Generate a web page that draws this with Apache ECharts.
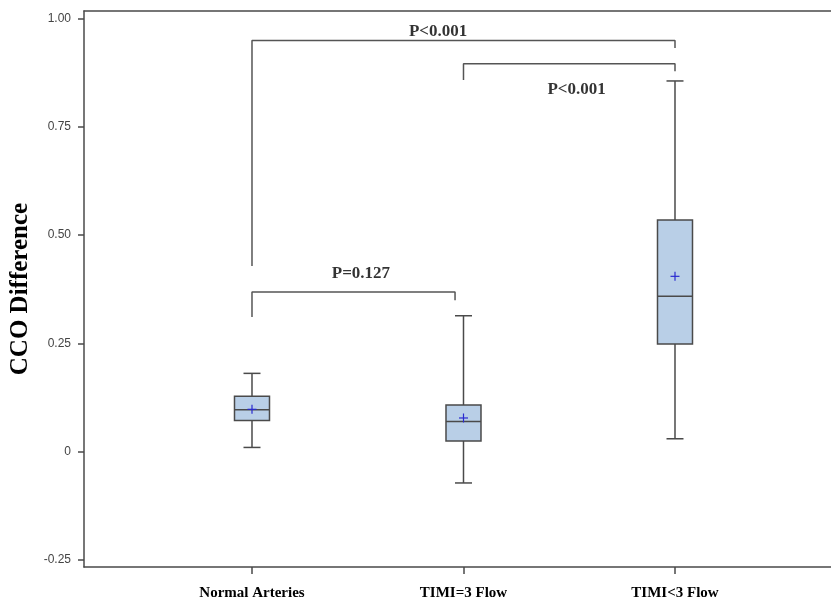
<!DOCTYPE html>
<html>
<head>
<meta charset="utf-8">
<script src="https://cdn.jsdelivr.net/npm/echarts@6/dist/echarts.min.js"></script>
<style>html,body{margin:0;padding:0;background:#fff}#c{width:831px;height:601px}</style>
</head>
<body>
<div id="c"></div>
<script>
// Categories and box statistics
const categories = ['Normal Arteries', 'TIMI=3 Flow', 'TIMI<3 Flow'];
const whiskerLow  = [0.010, -0.072, 0.030];
const q1Values    = [0.072, 0.025, 0.249];
const medians     = [0.097, 0.070, 0.359];
const q3Values    = [0.128, 0.108, 0.535];
const whiskerHigh = [0.181, 0.314, 0.856];
const means       = [0.098, 0.078, 0.405];
const yTicks = [-0.25, 0, 0.25, 0.5, 0.75, 1.0];

// Significance annotations
const pLabels = ['P<0.001', 'P<0.001', 'P=0.127'];
const bracketA = [[1, 0.4286], [1, 0.9495], [3, 0.9495], [3, 0.932]];
const bracketB = [[2, 0.858], [2, 0.896], [3, 0.896], [3, 0.8786]];
const bracketC = [[1, 0.311], [1, 0.369], [1.96, 0.369], [1.96, 0.350]];
const labelPos = [[1.88, 0.971], [2.535, 0.837], [1.515, 0.412]];

const boxData = categories.map((c, i) => [i + 1, whiskerLow[i], q1Values[i], medians[i], q3Values[i], whiskerHigh[i], means[i]]);

const lineColor = '#4a4a4a';
function renderBox(params, api) {
  const x = api.value(0);
  const pLow = api.coord([x, api.value(1)]);
  const pQ1 = api.coord([x, api.value(2)]);
  const pMed = api.coord([x, api.value(3)]);
  const pQ3 = api.coord([x, api.value(4)]);
  const pHigh = api.coord([x, api.value(5)]);
  const pMean = api.coord([x, api.value(6)]);
  const cx = pMed[0];
  const bw = 35, cw = 17, ps = 4.5;
  const ls = {stroke: lineColor, lineWidth: 1.5};
  return {
    type: 'group',
    children: [
      {type: 'line', shape: {x1: cx, y1: pHigh[1], x2: cx, y2: pQ3[1]}, style: ls},
      {type: 'line', shape: {x1: cx, y1: pQ1[1], x2: cx, y2: pLow[1]}, style: ls},
      {type: 'line', shape: {x1: cx - cw / 2, y1: pHigh[1], x2: cx + cw / 2, y2: pHigh[1]}, style: ls},
      {type: 'line', shape: {x1: cx - cw / 2, y1: pLow[1], x2: cx + cw / 2, y2: pLow[1]}, style: ls},
      {type: 'rect', shape: {x: cx - bw / 2, y: pQ3[1], width: bw, height: pQ1[1] - pQ3[1]}, style: {fill: '#b9cfe7', stroke: lineColor, lineWidth: 1.5}},
      {type: 'line', shape: {x1: cx - bw / 2, y1: pMed[1], x2: cx + bw / 2, y2: pMed[1]}, style: ls},
      {type: 'line', shape: {x1: cx - ps, y1: pMean[1], x2: cx + ps, y2: pMean[1]}, style: {stroke: '#2a2ad0', lineWidth: 1.2}},
      {type: 'line', shape: {x1: cx, y1: pMean[1] - ps, x2: cx, y2: pMean[1] + ps}, style: {stroke: '#2a2ad0', lineWidth: 1.2}}
    ]
  };
}

const bracketStyle = {color: '#555', width: 1.5};
const chart = echarts.init(document.getElementById('c'), null, {renderer: 'canvas'});
chart.setOption({
  animation: false,
  grid: {left: 84, right: 0, top: 11, bottom: 34, containLabel: false, outerBoundsMode: 'none'},
  xAxis: [{
    type: 'value', min: 0.2057, max: 3.7376, position: 'bottom',
    splitLine: {show: false},
    axisLine: {show: true, onZero: false, lineStyle: {color: lineColor, width: 1.5}},
    axisTick: {show: true, customValues: [1, 2, 3], length: 7, lineStyle: {color: lineColor, width: 1.5}},
    axisLabel: {show: true, customValues: [1, 2, 3], formatter: v => categories[Math.round(v) - 1] || '',
      fontFamily: 'Liberation Serif', fontWeight: 'bold', fontSize: 15, color: '#000', margin: 19}
  }, {
    type: 'value', min: 0.2057, max: 3.7376, position: 'top',
    splitLine: {show: false},
    axisLine: {show: true, onZero: false, lineStyle: {color: lineColor, width: 1.5}},
    axisTick: {show: false}, axisLabel: {show: false}
  }],
  yAxis: {
    type: 'value', min: -0.266, max: 1.0175,
    name: 'CCO Difference', nameLocation: 'middle', nameRotate: 90, nameGap: 50,
    nameTextStyle: {fontFamily: 'Liberation Serif', fontWeight: 'bold', fontSize: 25, color: '#000'},
    splitLine: {show: false},
    axisLine: {show: true, onZero: false, lineStyle: {color: lineColor, width: 1.5}},
    axisTick: {show: true, customValues: yTicks, length: 6, lineStyle: {color: lineColor, width: 1.5}},
    axisLabel: {show: true, customValues: yTicks, formatter: v => (Math.abs(v) < 1e-9 ? '0' : v.toFixed(2)),
      fontFamily: 'Liberation Sans', fontSize: 12, color: '#444', margin: 13}
  },
  series: [
    {type: 'custom', renderItem: renderBox, data: boxData, encode: {x: 0, y: [1, 5]}, z: 3},
    {type: 'line', data: bracketA, symbol: 'none', lineStyle: bracketStyle, z: 2},
    {type: 'line', data: bracketB, symbol: 'none', lineStyle: bracketStyle, z: 2},
    {type: 'line', data: bracketC, symbol: 'none', lineStyle: bracketStyle, z: 2},
    {type: 'scatter', symbolSize: 0, z: 4,
      data: labelPos.map((p, i) => ({value: p, name: pLabels[i]})),
      label: {show: true, position: 'inside', formatter: p => p.name,
        fontFamily: 'Liberation Serif', fontWeight: 'bold', fontSize: 17, color: '#000'}}
  ]
});
</script>
</body>
</html>
